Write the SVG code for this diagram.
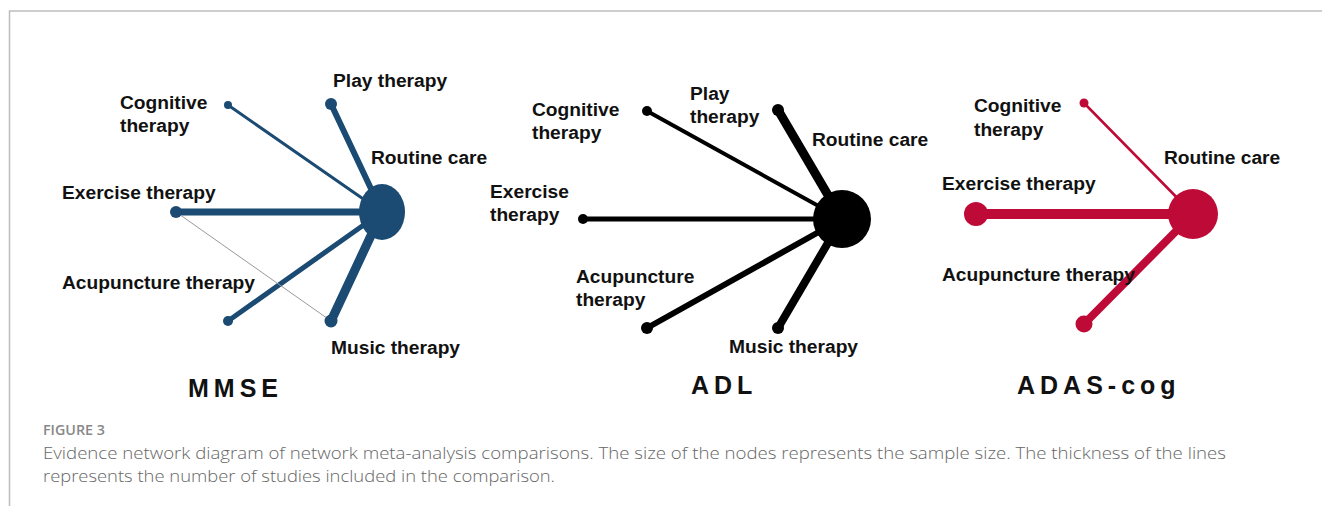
<svg xmlns="http://www.w3.org/2000/svg" width="1322" height="506" viewBox="0 0 1322 506">
  <style>
    .lbl { font-family: "Liberation Sans", Arial, sans-serif; font-weight: bold; font-size: 19.2px; fill: #111; }
    .ttl { font-family: "Liberation Sans", Arial, sans-serif; font-weight: bold; font-size: 25px; fill: #111; letter-spacing: 5px; }
    .cap { font-family: "Open Sans", "Liberation Sans", sans-serif; font-weight: 300; font-size: 17px; fill: #666; }
    .fig { font-family: "Open Sans", "Liberation Sans", sans-serif; font-weight: 600; font-size: 14px; fill: #888; }
    .blue { stroke: #1B4A72; fill: none; stroke-linecap: round; }
    .black { stroke: #000; fill: none; stroke-linecap: round; }
    .red { stroke: #BE0A36; fill: none; stroke-linecap: round; }
  </style>

  <!-- frame -->
  <path d="M9.5 506 V11 H1322" fill="none" stroke="#bdbdbd" stroke-width="1.5"/>

  <!-- connectors -->
  <g id="connectors">
    <!-- MMSE -->
    <line class="blue" x1="228" y1="105" x2="382" y2="212" stroke-width="3"/>
    <line class="blue" x1="331" y1="104" x2="382" y2="212" stroke-width="6"/>
    <line class="blue" x1="176" y1="212" x2="382" y2="212" stroke-width="7"/>
    <line class="blue" x1="228" y1="321" x2="382" y2="212" stroke-width="5"/>
    <line class="blue" x1="331" y1="321" x2="382" y2="212" stroke-width="9"/>
    <line x1="176" y1="212" x2="331" y2="321" stroke="#999" stroke-width="1"/>
    <!-- ADL -->
    <line class="black" x1="647" y1="111" x2="842" y2="219" stroke-width="4"/>
    <line class="black" x1="778" y1="110" x2="842" y2="219" stroke-width="9"/>
    <line class="black" x1="583" y1="219" x2="842" y2="219" stroke-width="5"/>
    <line class="black" x1="647" y1="328" x2="842" y2="219" stroke-width="6"/>
    <line class="black" x1="778" y1="328" x2="842" y2="219" stroke-width="8"/>
    <!-- ADAS-cog -->
    <line class="red" x1="1084" y1="103" x2="1193" y2="214" stroke-width="2.5"/>
    <line class="red" x1="976" y1="214" x2="1193" y2="214" stroke-width="10"/>
    <line class="red" x1="1084" y1="324" x2="1193" y2="214" stroke-width="8"/>
  </g>

  <!-- MMSE network -->
  <g id="mmse-routine" fill="#1B4A72"><ellipse cx="382" cy="212" rx="23" ry="28"/><text class="lbl" x="371" y="164">Routine care</text></g>
  <g id="mmse-cognitive" fill="#1B4A72"><circle cx="228" cy="105" r="4"/><text class="lbl" x="120" y="109">Cognitive</text><text class="lbl" x="120" y="132">therapy</text></g>
  <g id="mmse-play" fill="#1B4A72"><circle cx="331" cy="104" r="6"/><text class="lbl" x="333" y="87">Play therapy</text></g>
  <g id="mmse-exercise" fill="#1B4A72"><circle cx="176" cy="212" r="6"/><text class="lbl" x="62" y="199">Exercise therapy</text></g>
  <g id="mmse-acupuncture" fill="#1B4A72"><circle cx="228" cy="321" r="5"/><text class="lbl" x="62" y="289">Acupuncture therapy</text></g>
  <g id="mmse-music" fill="#1B4A72"><circle cx="331" cy="321" r="6.5"/><text class="lbl" x="331" y="354">Music therapy</text></g>
  <text class="ttl" x="188" y="397">MMSE</text>

  <!-- ADL network -->
  <g id="adl-routine"><circle cx="842" cy="219" r="29" fill="#000"/><text class="lbl" x="812" y="146">Routine care</text></g>
  <g id="adl-cognitive"><circle cx="647" cy="111" r="5" fill="#000"/><text class="lbl" x="532" y="116">Cognitive</text><text class="lbl" x="532" y="139">therapy</text></g>
  <g id="adl-play"><circle cx="778" cy="110" r="6" fill="#000"/><text class="lbl" x="690" y="100">Play</text><text class="lbl" x="690" y="123">therapy</text></g>
  <g id="adl-exercise"><circle cx="583" cy="219" r="5" fill="#000"/><text class="lbl" x="490" y="198">Exercise</text><text class="lbl" x="490" y="221">therapy</text></g>
  <g id="adl-acupuncture"><circle cx="647" cy="328" r="6" fill="#000"/><text class="lbl" x="576" y="283">Acupuncture</text><text class="lbl" x="576" y="306">therapy</text></g>
  <g id="adl-music"><circle cx="778" cy="328" r="6" fill="#000"/><text class="lbl" x="729" y="353">Music therapy</text></g>
  <text class="ttl" x="691" y="394">ADL</text>

  <!-- ADAS-cog network -->
  <g id="adas-routine"><circle cx="1193" cy="214" r="25" fill="#BE0A36"/><text class="lbl" x="1164" y="164">Routine care</text></g>
  <g id="adas-cognitive"><circle cx="1084" cy="103" r="4.5" fill="#BE0A36"/><text class="lbl" x="974" y="112">Cognitive</text><text class="lbl" x="974" y="136">therapy</text></g>
  <g id="adas-exercise"><circle cx="976" cy="214" r="12" fill="#BE0A36"/><text class="lbl" x="942" y="190">Exercise therapy</text></g>
  <g id="adas-acupuncture"><circle cx="1084" cy="324" r="8.5" fill="#BE0A36"/><text class="lbl" x="942" y="281">Acupuncture therapy</text></g>
  <text class="ttl" x="1017" y="394">ADAS-cog</text>

  <!-- caption -->
  <text class="fig" x="43" y="435" textLength="62" lengthAdjust="spacingAndGlyphs">FIGURE 3</text>
  <text class="cap" x="43" y="459" textLength="1183" lengthAdjust="spacingAndGlyphs">Evidence network diagram of network meta-analysis comparisons. The size of the nodes represents the sample size. The thickness of the lines</text>
  <text class="cap" x="43" y="482" textLength="512" lengthAdjust="spacingAndGlyphs">represents the number of studies included in the comparison.</text>
</svg>
